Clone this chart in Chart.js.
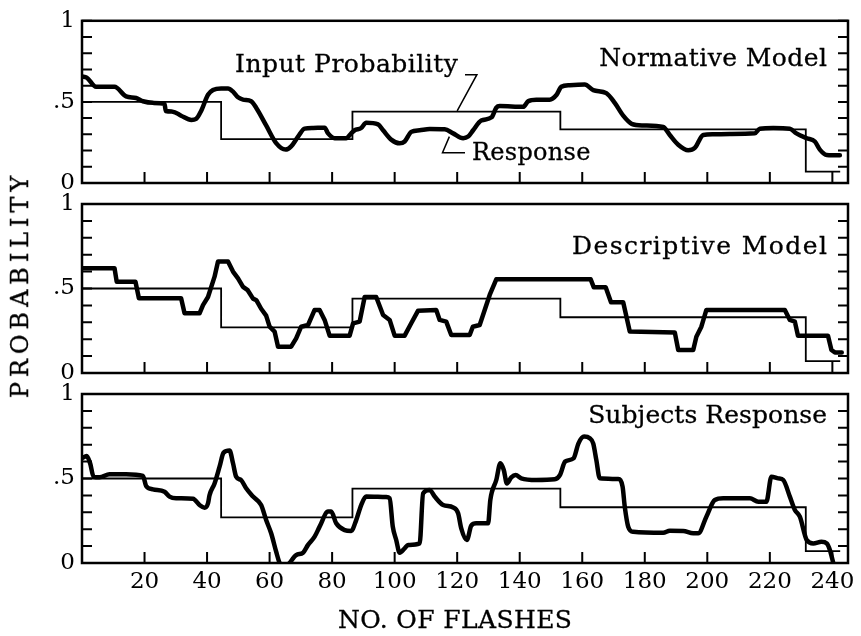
<!DOCTYPE html>
<html>
<head>
<meta charset="utf-8">
<script src="https://cdn.jsdelivr.net/npm/chart.js@4.4.1/dist/chart.umd.min.js"></script>
<style>
  html, body { margin: 0; padding: 0; background: #fff; }
  #wrap { position: relative; width: 861px; height: 636px; overflow: hidden; }
  #wrap canvas { position: absolute; left: 0; top: 0; }
  .lbl { position: absolute; font-family: 'DejaVu Serif', serif; color: #000; white-space: nowrap; line-height: normal; -webkit-text-stroke: 0.3px #000; }
</style>
</head>
<body>
<div id="wrap">
  <canvas id="c1" width="861" height="636"></canvas>
  <canvas id="c2" width="861" height="636"></canvas>
  <canvas id="c3" width="861" height="636"></canvas>
</div>
<script>
// tick values
const flashTicks = [20, 40, 60, 80, 100, 120, 140, 160, 180, 200, 220, 240];
const probTicks = [0, 0.1, 0.2, 0.3, 0.4, 0.5, 0.6, 0.7, 0.8, 0.9, 1];
const probLabels = { 0: "0", 5: ".5", 10: "1" };

// input probability (step function, same in all panels)
const inputX = [0, 44.5, 86.5, 153, 231.5, 242.5];
const inputP = [0.5, 0.27, 0.44, 0.33, 0.07, 0.07];

// normative model
const normX = [0, 1.5, 4.5, 10.4, 14.1, 17.3, 19.5, 22.7, 26.4, 26.8, 29, 31.7, 35, 36.5, 38.1, 40.3, 41.9, 44.5,
  46.7, 48.3, 49.9, 51.5, 54.1, 55.7, 58.9, 62.1, 65.1, 66.9, 69.1, 71.2, 73.9, 77.6, 78.7, 80.8, 84.5, 86.1,
  87.2, 89.3, 90.9, 94.7, 96.3, 99, 101.6, 103.2, 105.3, 108, 111.2, 116, 118.7, 121.9, 123.5, 125.1, 127.7,
  131, 132.5, 133.6, 141.1, 142.7, 145.3, 149.6, 151.8, 153.3, 156, 160.8, 163.5, 167.7, 170.4, 173.1, 175.8,
  179.5, 185.9, 188, 190.7, 193.9, 196, 198.7, 201.9, 207.2, 215.2, 216.8, 221.1, 226.4, 228.5, 231.8, 234.4,
  236, 238.2, 242.4];
const normP = [0.657, 0.65, 0.593, 0.593, 0.534, 0.524, 0.504, 0.494, 0.488, 0.444, 0.44, 0.415, 0.389, 0.395,
  0.444, 0.544, 0.573, 0.583, 0.583, 0.563, 0.528, 0.514, 0.504, 0.464, 0.355, 0.246, 0.206, 0.226, 0.286, 0.335,
  0.339, 0.341, 0.306, 0.276, 0.276, 0.306, 0.325, 0.339, 0.371, 0.361, 0.325, 0.266, 0.245, 0.256, 0.315, 0.325,
  0.333, 0.331, 0.306, 0.276, 0.286, 0.325, 0.385, 0.405, 0.464, 0.474, 0.47, 0.504, 0.514, 0.514, 0.544, 0.593,
  0.603, 0.607, 0.573, 0.554, 0.494, 0.415, 0.365, 0.355, 0.345, 0.296, 0.236, 0.202, 0.216, 0.296, 0.3, 0.302,
  0.306, 0.335, 0.339, 0.335, 0.306, 0.276, 0.256, 0.206, 0.173, 0.171];

// descriptive model
const descX = [0, 10.4, 11.1, 17.1, 18.2, 31.7, 32.8, 37.6, 38.7, 40.3, 42.4, 43.5, 46.7, 48.3, 49.9, 51.5, 53,
  54.7, 55.8, 57.3, 58.9, 60, 61.6, 62.7, 66.9, 68.5, 70.1, 72.3, 74.4, 76, 77.6, 79.2, 85.6, 86.7, 88.8, 90.4,
  94.1, 96.3, 98.4, 100, 103.2, 105.3, 107.5, 113.3, 114.4, 116.5, 118.1, 124, 125, 127.2, 128.8, 130.4, 132.5,
  162.7, 163.7, 167.5, 169.2, 173.1, 175.2, 189.6, 190.7, 195.5, 196.5, 198.1, 199.7, 224.8, 226.4, 228, 229,
  238.6, 239.7, 240.8, 243];
const descP = [0.62, 0.62, 0.54, 0.54, 0.442, 0.442, 0.353, 0.353, 0.402, 0.45, 0.57, 0.66, 0.66, 0.6, 0.56,
  0.51, 0.49, 0.44, 0.43, 0.38, 0.34, 0.274, 0.245, 0.156, 0.156, 0.205, 0.274, 0.284, 0.373, 0.373, 0.314,
  0.221, 0.221, 0.294, 0.304, 0.45, 0.45, 0.343, 0.314, 0.221, 0.221, 0.294, 0.369, 0.373, 0.314, 0.304, 0.225,
  0.225, 0.274, 0.284, 0.373, 0.462, 0.554, 0.554, 0.507, 0.507, 0.418, 0.418, 0.245, 0.24, 0.136, 0.136,
  0.215, 0.274, 0.373, 0.373, 0.314, 0.304, 0.221, 0.221, 0.136, 0.122, 0.122];

// subjects response
const subjX = [0, 1.5, 2.6, 3.7, 5.6, 8.8, 14.1, 19.5, 20.5, 22.7, 26.4, 28, 30.1, 35.5, 37.6, 39.2, 40.3, 40.8,
  42.4, 44, 45.3, 47.2, 48.3, 49.3, 50.9, 52.5, 54.7, 57.3, 58.9, 60.5, 62.1, 63.2, 64.8, 66.4, 68.5, 70.7,
  72.3, 74.4, 76, 78.7, 79.7, 81.3, 84, 86.1, 87.7, 89.3, 90.9, 97.3, 98.4, 99.4, 100.5, 101.6, 103.2, 104.3,
  108, 109.1, 111.2, 112.8, 115.5, 118.7, 120.3, 121.3, 123.1, 124.5, 126.1, 129.9, 130.6, 132.5, 133.8,
  134.9, 135.9, 137.3, 138.7, 140.5, 145.3, 151.2, 152.9, 154.5, 157.2, 158.8, 160.6, 162.4, 163.5, 164.5,
  165.6, 171.5, 172.9, 173.6, 174.7, 176.3, 185.9, 188, 192.3, 195.5, 197.1, 199.7, 202.4, 205.1, 213.6,
  216.3, 218.9, 220.5, 222.7, 224.3, 226.4, 228, 229.6, 231.8, 233.9, 236.5, 238.2, 239.2, 240.3];
const subjP = [0.62, 0.633, 0.59, 0.51, 0.507, 0.525, 0.525, 0.515, 0.456, 0.436, 0.422, 0.393, 0.383, 0.38,
  0.343, 0.327, 0.353, 0.402, 0.471, 0.57, 0.653, 0.665, 0.59, 0.511, 0.49, 0.442, 0.393, 0.343, 0.254, 0.176,
  0.067, 0, -0.04, 0, 0.047, 0.061, 0.107, 0.156, 0.215, 0.304, 0.304, 0.235, 0.195, 0.19, 0.254, 0.343, 0.393,
  0.39, 0.383, 0.215, 0.136, 0.061, 0.087, 0.107, 0.116, 0.412, 0.432, 0.393, 0.343, 0.329, 0.294, 0.205,
  0.136, 0.221, 0.235, 0.235, 0.373, 0.491, 0.59, 0.55, 0.471, 0.507, 0.521, 0.501, 0.491, 0.495, 0.521, 0.6,
  0.619, 0.708, 0.748, 0.738, 0.708, 0.61, 0.501, 0.497, 0.452, 0.333, 0.215, 0.185, 0.179, 0.191, 0.19,
  0.176, 0.176, 0.274, 0.373, 0.383, 0.383, 0.363, 0.363, 0.511, 0.501, 0.491, 0.393, 0.314, 0.274, 0.136,
  0.116, 0.126, 0.116, 0.077, 0];

// leader lines in the top panel
const inputLeadX = [122.5, 126.3, 120.0];
const inputLeadP = [0.668, 0.668, 0.445];
const respLeadX = [117.5, 115.3, 122.5];
const respLeadP = [0.286, 0.186, 0.186];

const zip = (xs, ys) => xs.map((x, i) => ({ x: x, y: ys[i] }));
const tickFont = { family: "'DejaVu Serif', serif", size: 23 };

// frame with inward tick marks
const frame = {
  id: "frame",
  afterDatasetsDraw(chart) {
    const { ctx, chartArea: a, scales } = chart;
    ctx.save();
    ctx.strokeStyle = "#000";
    ctx.lineWidth = 2;
    ctx.beginPath();
    scales.y.ticks.forEach(t => {
      const py = scales.y.getPixelForValue(t.value);
      ctx.moveTo(a.left, py); ctx.lineTo(a.left + 10, py);
      ctx.moveTo(a.right, py); ctx.lineTo(a.right - 10, py);
    });
    scales.x.ticks.forEach(t => {
      const px = scales.x.getPixelForValue(t.value);
      ctx.moveTo(px, a.bottom); ctx.lineTo(px, a.bottom - 11);
    });
    ctx.stroke();
    ctx.lineWidth = 2.5;
    ctx.strokeRect(a.left, a.top, a.right - a.left, a.bottom - a.top);
    ctx.restore();
  }
};

function inputSet() {
  return { data: zip(inputX, inputP), borderColor: "#000", borderWidth: 1.8, stepped: "before", clip: 0 };
}
function respSet(xs, ps, smooth) {
  return {
    data: zip(xs, ps), borderColor: "#000", borderWidth: 4.5,
    cubicInterpolationMode: smooth ? "monotone" : "default", tension: 0,
    borderJoinStyle: "round", borderCapStyle: "round", clip: 0
  };
}
function leadSet(xs, ps) {
  return { data: zip(xs, ps), borderColor: "#000", borderWidth: 1.5, clip: false };
}

function makePanel(id, top, xHeight, datasets, showX) {
  return new Chart(document.getElementById(id), {
    type: "line",
    data: { datasets: datasets },
    options: {
      responsive: false,
      animation: false,
      events: [],
      layout: { padding: { left: 0, right: 13, top: top, bottom: 0 } },
      plugins: { legend: { display: false }, tooltip: { enabled: false } },
      elements: { point: { radius: 0 } },
      scales: {
        x: {
          type: "linear", min: 0, max: 245,
          grid: { display: false, drawTicks: false },
          border: { display: false },
          afterBuildTicks: s => { s.ticks = flashTicks.map(v => ({ value: v })); },
          ticks: { display: showX, padding: 5, color: "#000", font: tickFont, maxRotation: 0, autoSkip: false },
          afterFit: s => { s.height = xHeight; }
        },
        y: {
          type: "linear", min: 0, max: 1,
          grid: { display: false, drawTicks: false },
          border: { display: false },
          afterBuildTicks: s => { s.ticks = probTicks.map(v => ({ value: v })); },
          ticks: {
            padding: 7, color: "#000", font: tickFont, autoSkip: false,
            callback: v => probLabels[Math.round(v * 10)] || ""
          },
          afterFit: s => { s.width = 82; }
        }
      }
    },
    plugins: [frame]
  });
}

makePanel("c1", 15, 636 - 183, [
  respSet(normX, normP, true), inputSet(),
  leadSet(inputLeadX, inputLeadP), leadSet(respLeadX, respLeadP)
], false);
makePanel("c2", 204, 636 - 373, [respSet(descX, descP, false), inputSet()], false);
makePanel("c3", 394, 636 - 563, [respSet(subjX, subjP, true), inputSet()], true);

// text labels
const wrap = document.getElementById("wrap");
const notes = [
  { text: "Input Probability", size: 25, left: 235, base: 72, width: 223 },
  { text: "Response", size: 24, left: 472, base: 160, width: 118 },
  { text: "Normative Model", size: 25, right: 827, base: 66, width: 228 },
  { text: "Descriptive Model", size: 25, right: 827, base: 254, width: 255 },
  { text: "Subjects Response", size: 25, right: 827, base: 423, width: 239 },
  { text: "NO. OF FLASHES", size: 25, left: 338, base: 628, width: 234 }
];
notes.forEach(n => {
  const el = document.createElement("div");
  el.className = "lbl";
  el.textContent = n.text;
  el.style.fontSize = n.size + "px";
  wrap.appendChild(el);
  const nat = el.offsetWidth;
  const ls = (n.width - nat) / (n.text.length - 1);
  el.style.letterSpacing = ls + "px";
  el.style.top = (n.base - 0.928 * n.size) + "px";
  if (n.right !== undefined) el.style.right = (861 - n.right - ls) + "px";
  else el.style.left = n.left + "px";
});

// rotated axis title
const yt = document.createElement("div");
yt.className = "lbl";
yt.textContent = "PROBABILITY";
yt.style.fontSize = "24px";
wrap.appendChild(yt);
const ytNat = yt.offsetWidth;
const ytLs = (222 - ytNat) / 10;
yt.style.letterSpacing = ytLs + "px";
yt.style.left = "20px";
yt.style.top = "287px";
yt.style.transform = "translate(-50%, -50%) rotate(-90deg) translateX(" + (ytLs / 2) + "px)";
</script>
</body>
</html>
